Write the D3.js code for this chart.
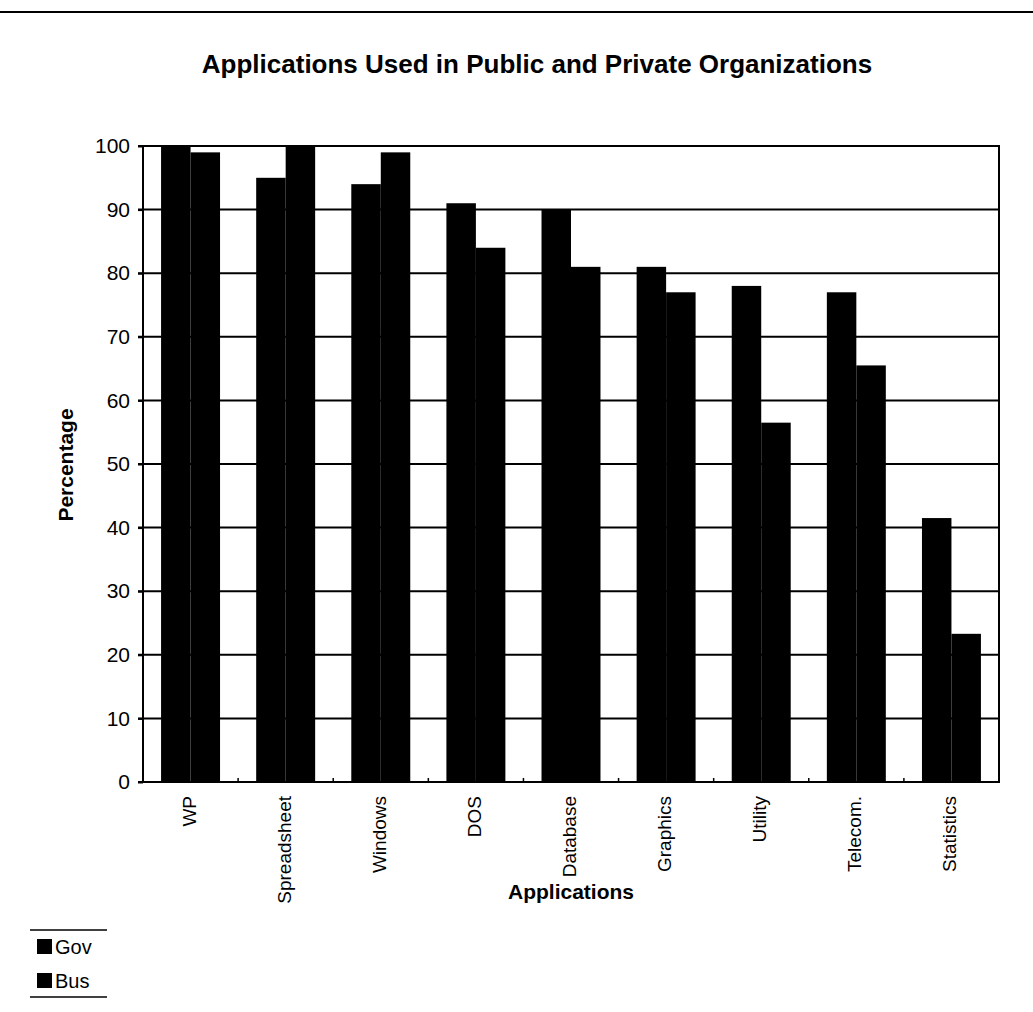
<!DOCTYPE html>
<html><head><meta charset="utf-8">
<script src="https://cdn.jsdelivr.net/npm/d3@7"></script>
<style>body{margin:0;background:#fff}svg{display:block}text{font-family:"Liberation Sans",Arial,sans-serif;fill:#000}</style>
</head><body>
<svg id="c" width="1033" height="1012"></svg>
<script>
const categories = ["WP","Spreadsheet","Windows","DOS","Database","Graphics","Utility","Telecom.","Statistics"];
const seriesNames = ["Gov","Bus"];
const govValues = [100,95,94,91,90,81,78,77,41.5];
const busValues = [99,100,99,84,81,77,56.5,65.5,23.3];
const yTicks = [0,10,20,30,40,50,60,70,80,90,100];

const svg = d3.select("#c");
const m = {left:143, right:999, top:146, bottom:782};
const x0 = d3.scaleBand().domain(categories).range([m.left,m.right]).paddingInner(0.38).paddingOuter(0.19);
const x1 = d3.scaleBand().domain(seriesNames).range([0,x0.bandwidth()]);
const y = d3.scaleLinear().domain([0,100]).range([m.bottom,m.top]);

// top rule
svg.append("line").attr("x1",0).attr("x2",1033).attr("y1",12).attr("y2",12).attr("stroke","#000").attr("stroke-width",2);

svg.append("text").attr("x",537).attr("y",73).attr("text-anchor","middle")
  .style("font-size","26px").style("font-weight","bold").text("Applications Used in Public and Private Organizations");

// gridlines
svg.append("g").selectAll("line").data(yTicks).join("line")
  .attr("x1",m.left-5).attr("x2",m.right).attr("y1",d=>y(d)).attr("y2",d=>y(d))
  .attr("stroke","#000").attr("stroke-width",2);

// bars
const data = categories.map((c,i)=>({c, vals:[{s:"Gov",v:govValues[i]},{s:"Bus",v:busValues[i]}]}));
svg.append("g").selectAll("g").data(data).join("g")
  .attr("transform",d=>`translate(${x0(d.c)},0)`)
  .selectAll("rect").data(d=>d.vals).join("rect")
  .attr("x",d=>x1(d.s)).attr("width",x1.bandwidth())
  .attr("y",d=>y(d.v)).attr("height",d=>y(0)-y(d.v)).attr("fill","#000");

// plot border
svg.append("rect").attr("x",m.left).attr("y",m.top).attr("width",m.right-m.left).attr("height",m.bottom-m.top)
  .attr("fill","none").attr("stroke","#000").attr("stroke-width",2);

// y axis
const yAxis = d3.axisLeft(y).tickValues(yTicks).tickSize(5).tickPadding(8);
const ya = svg.append("g").attr("transform",`translate(${m.left},0)`).call(yAxis);
ya.select(".domain").remove();
ya.selectAll("line").attr("stroke-width",2);
ya.selectAll("text").style("font-size","21px").style("font-family","Liberation Sans, Arial, sans-serif");

// category ticks at boundaries
const step = x0.step();
svg.append("g").selectAll("line").data(categories.slice(1)).join("line")
  .attr("x1",d=>x0(d)-step*0.19).attr("x2",d=>x0(d)-step*0.19)
  .attr("y1",m.bottom).attr("y2",m.bottom-4).attr("stroke","#000").attr("stroke-width",1.5);

// x labels
svg.append("g").selectAll("text").data(categories).join("text")
  .attr("transform",d=>`translate(${x0(d)+x0.bandwidth()/2+5},796) rotate(-90)`)
  .attr("text-anchor","end").style("font-size","19px").text(d=>d);

svg.append("text").attr("x",571).attr("y",899).attr("text-anchor","middle")
  .style("font-size","21px").style("font-weight","bold").text("Applications");

svg.append("text").attr("transform","translate(73,465) rotate(-90)").attr("text-anchor","middle")
  .style("font-size","21px").style("font-weight","bold").text("Percentage");

// legend
const lg = svg.append("g");
lg.append("line").attr("x1",30).attr("x2",107).attr("y1",930).attr("y2",930).attr("stroke","#000").attr("stroke-width",1.5);
lg.append("line").attr("x1",30).attr("x2",107).attr("y1",997).attr("y2",997).attr("stroke","#000").attr("stroke-width",1.5);
const li = lg.selectAll("g").data(seriesNames).join("g").attr("transform",(d,i)=>`translate(37,${939+i*34})`);
li.append("rect").attr("width",15).attr("height",15).attr("fill","#000");
li.append("text").attr("x",18).attr("y",15).style("font-size","20px").text(d=>d);
</script>
</body></html>
